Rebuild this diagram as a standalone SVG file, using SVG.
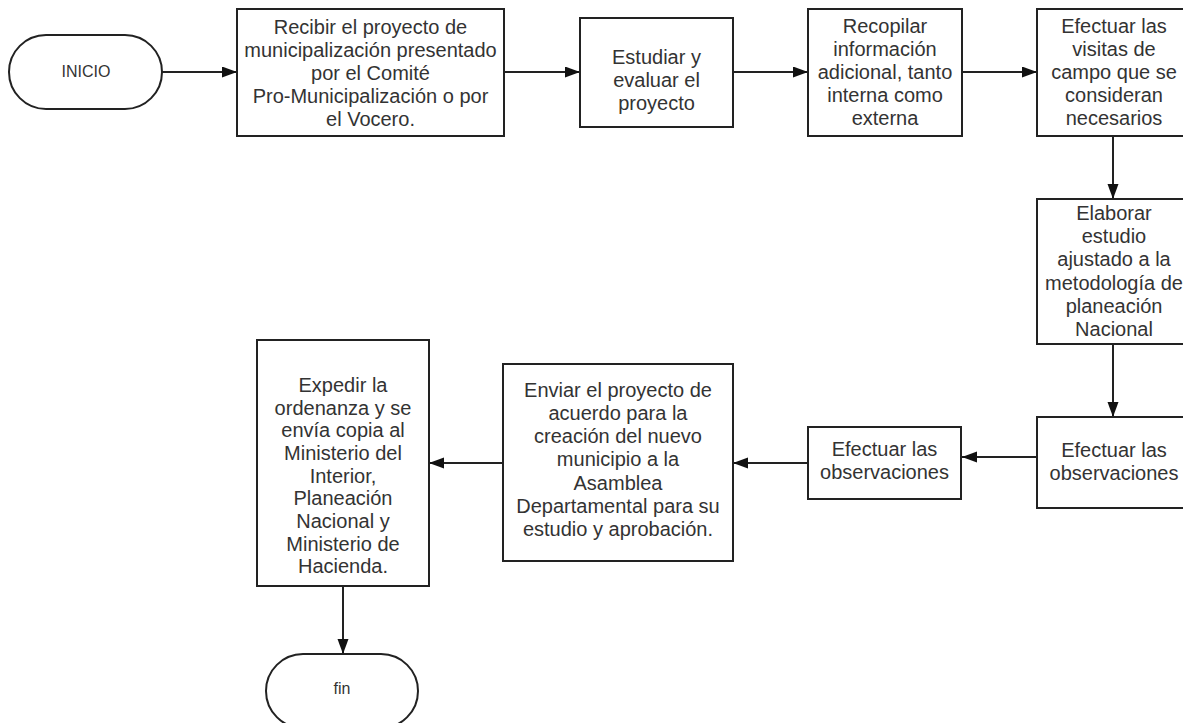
<svg xmlns="http://www.w3.org/2000/svg" width="1183" height="723" viewBox="0 0 1183 723">
<defs>
<style>
.box{fill:#fff;stroke:#222;stroke-width:2}
.t{font-family:"Liberation Sans",Arial,sans-serif;font-size:20px;fill:#333;text-anchor:middle}
.ts{font-family:"Liberation Sans",Arial,sans-serif;font-size:16px;fill:#333;text-anchor:middle}
.c{fill:none;stroke:#222;stroke-width:2}
</style>
<marker id="ah" markerUnits="userSpaceOnUse" markerWidth="16" markerHeight="12" refX="15" refY="5.5" orient="auto">
<path d="M0,0 L15,5.5 L0,11 z" fill="#111"/>
</marker>
</defs>
<rect width="1183" height="723" fill="#fff"/>
<g id="connectors">
<line class="c" x1="162" y1="72" x2="237" y2="72" marker-end="url(#ah)"/>
<line class="c" x1="504" y1="72" x2="580" y2="72" marker-end="url(#ah)"/>
<line class="c" x1="733" y1="72" x2="808" y2="72" marker-end="url(#ah)"/>
<line class="c" x1="962" y1="72" x2="1037" y2="72" marker-end="url(#ah)"/>
<line class="c" x1="1113" y1="136" x2="1113" y2="199" marker-end="url(#ah)"/>
<line class="c" x1="1113" y1="344" x2="1113" y2="417" marker-end="url(#ah)"/>
<line class="c" x1="1037" y1="457" x2="962" y2="457" marker-end="url(#ah)"/>
<line class="c" x1="808" y1="463" x2="733" y2="463" marker-end="url(#ah)"/>
<line class="c" x1="503" y1="463" x2="429" y2="463" marker-end="url(#ah)"/>
<line class="c" x1="343" y1="586" x2="343" y2="654" marker-end="url(#ah)"/>
</g>
<g id="inicio">
<rect class="box" x="9" y="35" width="153" height="74" rx="37" ry="37"/>
<text class="ts" x="86" y="77">INICIO</text>
</g>
<g id="recibir">
<rect class="box" x="237" y="9" width="267" height="127"/>
<text class="t" x="370.5" y="34">Recibir el proyecto de</text>
<text class="t" x="370.5" y="57">municipalización presentado</text>
<text class="t" x="370.5" y="80">por el Comité</text>
<text class="t" x="370.5" y="103">Pro-Municipalización o por</text>
<text class="t" x="370.5" y="126">el Vocero.</text>
</g>
<g id="estudiar">
<rect class="box" x="580" y="18" width="153" height="109"/>
<text class="t" x="656.5" y="64">Estudiar y</text>
<text class="t" x="656.5" y="87">evaluar el</text>
<text class="t" x="656.5" y="110">proyecto</text>
</g>
<g id="recopilar">
<rect class="box" x="808" y="9" width="154" height="127"/>
<text class="t" x="885" y="33">Recopilar</text>
<text class="t" x="885" y="56">información</text>
<text class="t" x="885" y="79">adicional, tanto</text>
<text class="t" x="885" y="102">interna como</text>
<text class="t" x="885" y="125">externa</text>
</g>
<g id="visitas">
<rect class="box" x="1037" y="9" width="154" height="127"/>
<text class="t" x="1114" y="33">Efectuar las</text>
<text class="t" x="1114" y="56">visitas de</text>
<text class="t" x="1114" y="79">campo que se</text>
<text class="t" x="1114" y="102">consideran</text>
<text class="t" x="1114" y="125">necesarios</text>
</g>
<g id="elaborar">
<rect class="box" x="1037" y="199" width="154" height="145"/>
<text class="t" x="1114" y="220">Elaborar</text>
<text class="t" x="1114" y="243">estudio</text>
<text class="t" x="1114" y="266">ajustado a la</text>
<text class="t" x="1114" y="290">metodología de</text>
<text class="t" x="1114" y="313">planeación</text>
<text class="t" x="1114" y="336">Nacional</text>
</g>
<g id="observaciones1">
<rect class="box" x="1037" y="417" width="154" height="91"/>
<text class="t" x="1114" y="457">Efectuar las</text>
<text class="t" x="1114" y="480">observaciones</text>
</g>
<g id="observaciones2">
<rect class="box" x="808" y="427" width="153" height="72"/>
<text class="t" x="884.5" y="456">Efectuar las</text>
<text class="t" x="884.5" y="479">observaciones</text>
</g>
<g id="enviar">
<rect class="box" x="503" y="364" width="230" height="197"/>
<text class="t" x="618" y="397">Enviar el proyecto de</text>
<text class="t" x="618" y="420">acuerdo para la</text>
<text class="t" x="618" y="443">creación del nuevo</text>
<text class="t" x="618" y="466">municipio a la</text>
<text class="t" x="618" y="490">Asamblea</text>
<text class="t" x="618" y="513">Departamental para su</text>
<text class="t" x="618" y="536">estudio y aprobación.</text>
</g>
<g id="expedir">
<rect class="box" x="257" y="340" width="172" height="246"/>
<text class="t" x="343" y="392">Expedir la</text>
<text class="t" x="343" y="414.6">ordenanza y se</text>
<text class="t" x="343" y="437.3">envía copia al</text>
<text class="t" x="343" y="460">Ministerio del</text>
<text class="t" x="343" y="482.6">Interior,</text>
<text class="t" x="343" y="505.3">Planeación</text>
<text class="t" x="343" y="528">Nacional y</text>
<text class="t" x="343" y="550.6">Ministerio de</text>
<text class="t" x="343" y="573.3">Hacienda.</text>
</g>
<g id="fin">
<rect class="box" x="266" y="654" width="152" height="74" rx="37" ry="37"/>
<text class="ts" x="342" y="694">fin</text>
</g>
</svg>
